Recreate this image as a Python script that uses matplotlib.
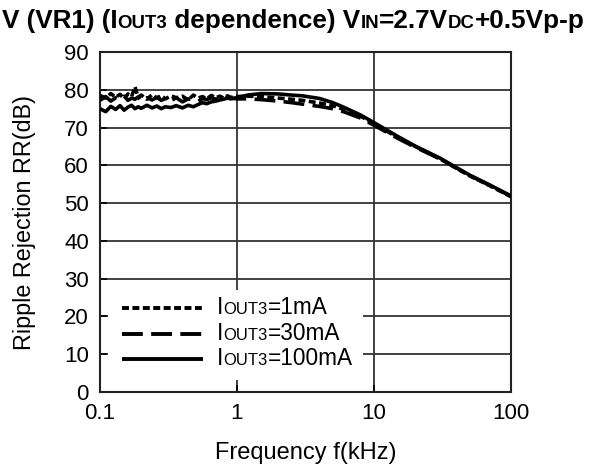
import matplotlib
matplotlib.use("Agg")
import matplotlib.pyplot as plt
from matplotlib.patches import Rectangle
from matplotlib.lines import Line2D

plt.rcParams['font.family'] = ['Liberation Sans', 'DejaVu Sans']
plt.rcParams['lines.scale_dashes'] = False

# ---------------- data ----------------
freq_khz = [0.10, 0.11, 0.12, 0.13, 0.14, 0.15, 0.16, 0.17, 0.18, 0.19,
            0.20, 0.22, 0.24, 0.26, 0.28, 0.30, 0.33, 0.36, 0.40, 0.44,
            0.48, 0.52, 0.56, 0.60, 0.65, 0.70, 0.75, 0.80, 0.85, 0.90,
            1.0, 1.2, 1.5, 2.0, 2.5, 3.0, 4.0, 5.0, 6.0, 8.0,
            10, 15, 20, 30, 40, 50, 70, 100]

rr_1mA = [78.5, 77.8, 79.0, 78.0, 78.8, 77.6, 78.9, 78.2, 80.8, 78.0,
          78.6, 77.5, 78.7, 77.8, 78.5, 77.6, 78.4, 77.9, 78.3, 77.3,
          78.6, 77.8, 78.2, 77.6, 78.5, 77.9, 78.3, 77.8, 78.4, 78.0,
          78.2, 78.3, 78.2, 77.8, 77.5, 77.2, 76.5, 75.8, 74.8, 73.0,
          71.0, 67.3, 65.0, 61.8, 59.2, 57.2, 54.6, 51.7]

rr_30mA = [77.2, 78.2, 77.0, 77.9, 77.4, 78.3, 77.2, 77.8, 77.5, 78.1,
           77.0, 77.9, 77.3, 78.0, 77.2, 77.7, 77.1, 77.9, 76.8, 77.6,
           77.3, 76.9, 77.7, 77.4, 77.9, 77.5, 77.8, 77.6, 78.0, 77.8,
           77.6, 77.6, 77.4, 77.0, 76.6, 76.2, 75.6, 75.0, 74.2, 72.5,
           70.6, 67.1, 64.8, 61.8, 59.3, 57.3, 54.7, 51.8]

rr_100mA = [75.0, 74.2, 75.6, 74.8, 75.8, 74.6, 75.4, 75.9, 75.0, 75.5,
            75.1, 75.9, 75.2, 75.7, 75.0, 75.5, 75.3, 75.8, 75.2, 75.9,
            75.5, 76.1, 76.6, 76.3, 76.8, 77.0, 77.3, 77.5, 77.8, 77.6,
            77.9, 78.6, 79.0, 78.9, 78.6, 78.4, 77.7, 76.6, 75.4, 73.3,
            71.3, 67.6, 65.1, 62.0, 59.4, 57.4, 54.8, 51.9]

x_ticks = [0.1, 1, 10, 100]
x_ticklabels = ["0.1", "1", "10", "100"]
y_ticks = [0, 10, 20, 30, 40, 50, 60, 70, 80, 90]

legend_parts = [
    [("I", 16.3), ("OUT3", 12), ("=1mA", 16.3)],
    [("I", 16.3), ("OUT3", 12), ("=30mA", 16.3)],
    [("I", 16.3), ("OUT3", 12), ("=100mA", 16.3)],
]
title_parts = [("V (VR1) (I", 18.8), ("OUT3", 13.4), (" dependence) V", 18.8), ("IN", 13.4),
               ("=2.7V", 18.8), ("DC", 13.4), ("+0.5Vp-p", 18.8)]

# ---------------- figure ----------------
W, H = 596, 466
fig = plt.figure(figsize=(W / 100, H / 100), dpi=100)
ax = fig.add_axes([100 / W, 1 - 392 / H, 411 / W, 340 / H])

styles = [
    (rr_1mA, (0, (5.0, 2.5))),
    (rr_30mA, (0, (15.0, 6.0))),
    (rr_100mA, '-'),
]
for vals, ls in styles:
    ax.plot(freq_khz, vals, color='black', lw=2.6, linestyle=ls, zorder=5,
            solid_capstyle='butt', dash_capstyle='butt')

ax.set_xscale('log')
ax.set_xlim(0.1, 100)
ax.set_ylim(0, 90)
ax.set_xticks(x_ticks)
ax.set_xticklabels(x_ticklabels)
ax.set_yticks(y_ticks)
ax.xaxis.set_minor_locator(matplotlib.ticker.NullLocator())
ax.tick_params(direction='in', length=5, width=1.2, labelsize=16, pad=8, color='black')
ax.grid(True, which='major', color='#333333', lw=1.3, zorder=1)
ax.set_axisbelow(True)
for s in ax.spines.values():
    s.set_linewidth(1.5)
    s.set_color('#222222')

ax.set_xlabel("Frequency f(kHz)", fontsize=17, labelpad=13)
ax.set_ylabel("Ripple Rejection RR(dB)", fontsize=16.8, labelpad=20)

# legend box (manual, to allow small-caps subscripts)
ax.add_patch(Rectangle(((108 - 100) / 411, (392 - 380) / 340),
                       (363 - 108) / 411, (380 - 290) / 340,
                       transform=ax.transAxes, facecolor='white', edgecolor='none', zorder=2))
row_y = [308, 334, 359]
handle_styles = [(0, (5.0, 2.5)), (0, (15.0, 6.0)), '-']
for yy, ls in zip(row_y, handle_styles):
    ax.add_line(Line2D([(122 - 100) / 411, (203 - 100) / 411],
                       [(392 - yy) / 340] * 2, transform=ax.transAxes,
                       color='black', lw=2.8, linestyle=ls, zorder=6,
                       solid_capstyle='butt', dash_capstyle='butt'))

fig.canvas.draw()
renderer = fig.canvas.get_renderer()


def rich(x_px, y_px, parts, **kw):
    x = x_px
    for s, size in parts:
        t = fig.text(x / W, 1 - y_px / H, s, fontsize=size, ha='left', va='baseline', **kw)
        bb = t.get_window_extent(renderer)
        x += bb.width
    return x


for yy, parts in zip(row_y, legend_parts):
    rich(217, yy + 6, parts)

rich(2, 28, title_parts, fontweight='bold')

fig.savefig("out.png", dpi=100)
